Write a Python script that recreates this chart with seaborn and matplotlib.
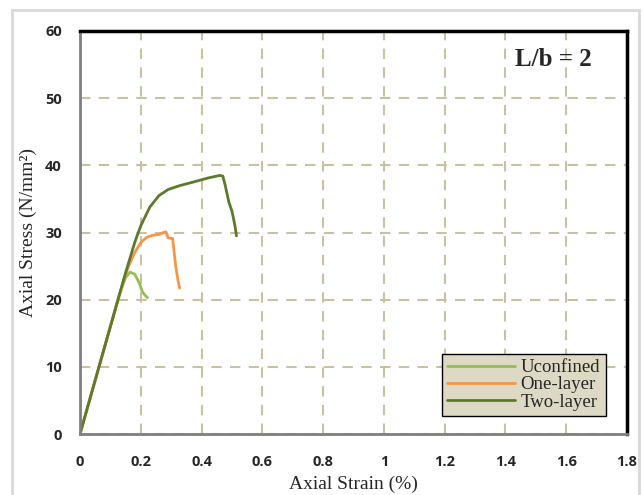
import pandas as pd
import matplotlib.pyplot as plt
import seaborn as sns
from matplotlib.patches import Rectangle

# stress-strain curves
unconf_strain = [0, 0.05, 0.10, 0.13, 0.15, 0.165, 0.18, 0.195, 0.205, 0.215, 0.222]
unconf_stress = [0, 8.0, 16.0, 20.8, 23.3, 24.1, 23.8, 22.5, 21.2, 20.6, 20.3]

one_strain = [0, 0.05, 0.10, 0.14, 0.16, 0.18, 0.20, 0.22, 0.24, 0.26, 0.275, 0.283,
              0.29, 0.305, 0.31, 0.315, 0.322, 0.328]
one_stress = [0, 8.0, 16.0, 22.3, 25.0, 27.0, 28.5, 29.3, 29.6, 29.7, 30.0, 30.1,
              29.2, 29.1, 27.0, 25.0, 23.0, 21.7]

two_strain = [0, 0.05, 0.10, 0.15, 0.18, 0.20, 0.23, 0.26, 0.29, 0.33, 0.38, 0.42,
              0.46, 0.47, 0.478, 0.49, 0.50, 0.51, 0.515]
two_stress = [0, 8.0, 16.0, 24.0, 28.5, 31.0, 33.8, 35.5, 36.4, 37.0, 37.6, 38.1,
              38.5, 38.4, 37.0, 34.5, 33.2, 31.0, 29.5]

series = ['Uconfined', 'One-layer', 'Two-layer']
colors = ['#92c050', '#f79646', '#5b7a2b']
x_ticks = [0, 0.2, 0.4, 0.6, 0.8, 1.0, 1.2, 1.4, 1.6, 1.8]
x_tick_labels = ['0', '0.2', '0.4', '0.6', '0.8', '1', '1.2', '1.4', '1.6', '1.8']
y_ticks = [0, 10, 20, 30, 40, 50, 60]

frames = []
for name, xs, ys in zip(series,
                        [unconf_strain, one_strain, two_strain],
                        [unconf_stress, one_stress, two_stress]):
    frames.append(pd.DataFrame({'strain': xs, 'stress': ys, 'series': name}))
df = pd.concat(frames, ignore_index=True)

sns.set_style('white')
fig = plt.figure(figsize=(6.44, 4.95), dpi=100)
fig.patches.append(Rectangle((0.018, -0.01), 0.975, 0.99, transform=fig.transFigure,
                             fill=False, edgecolor='#d9d9d9', linewidth=2))
ax = fig.add_axes([0.1242, 0.1232, 0.8494, 0.8142])

sns.lineplot(data=df, x='strain', y='stress', hue='series', hue_order=series,
             palette=colors, sort=False, estimator=None, linewidth=2, ax=ax)

ax.set_xlim(0, 1.8)
ax.set_ylim(0, 60)
ax.set_xticks(x_ticks)
ax.set_xticklabels(x_tick_labels)
ax.set_yticks(y_ticks)
ax.grid(True, color='#c9c2a0', linestyle=(0, (5, 4)), linewidth=1.5)
ax.set_axisbelow(True)
ax.tick_params(length=0, labelsize=10.5)
ax.tick_params(axis='x', pad=15)
ax.tick_params(axis='y', pad=13)
for lbl in ax.get_xticklabels() + ax.get_yticklabels():
    lbl.set_fontweight('bold')
    lbl.set_family('Open Sans')

ax.set_xlabel('Axial Strain (%)', family='Liberation Serif', fontsize=14, labelpad=5)
ax.set_ylabel('Axial Stress (N/mm²)', family='Liberation Serif', fontsize=14, labelpad=6)

for side in ['top', 'right']:
    ax.spines[side].set_color('black')
    ax.spines[side].set_linewidth(2.5)
for side in ['left', 'bottom']:
    ax.spines[side].set_color('#7f7f7f')
    ax.spines[side].set_linewidth(2)

ax.text(0.935, 0.93, 'L/b = 2', transform=ax.transAxes, ha='right', va='center',
        family='Liberation Serif', fontsize=18, fontweight='bold')

legend = ax.legend(loc='lower right', bbox_to_anchor=(0.968, 0.035),
                   prop={'family': 'Liberation Serif', 'size': 13.5},
                   frameon=True, fancybox=False, handlelength=3.6,
                   labelspacing=0.0, borderpad=0.3, handletextpad=0.3,
                   borderaxespad=0.2)
legend.get_frame().set_facecolor('#ddd9c4')
legend.get_frame().set_edgecolor('black')
legend.get_frame().set_linewidth(1)
legend.get_frame().set_alpha(1)

plt.savefig('out.png', dpi=100)
